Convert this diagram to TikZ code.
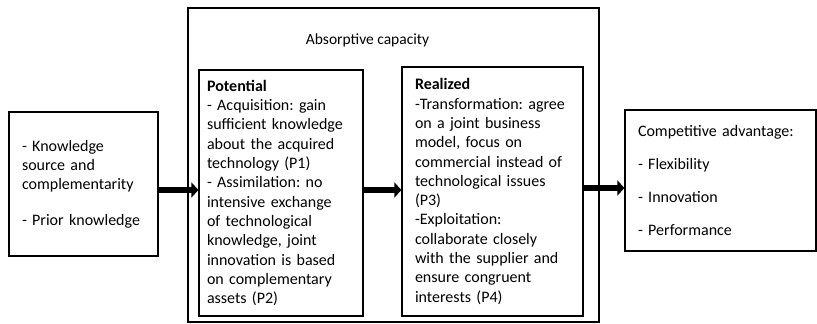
\documentclass[tikz,border=0pt]{standalone}
\usepackage{fontspec}
\setmainfont{Carlito}
\usetikzlibrary{arrows.meta}
\frenchspacing

\begin{document}
\begin{tikzpicture}[x=1pt, y=-1pt,
        box/.style={draw, line width=1.2pt, align=left, inner xsep=13pt,
                    font=\fontsize{16}{19.3}\selectfont},
        bigarrow/.style={line width=6.5pt,
                    -{Triangle[length=7pt, width=15pt]}}]
        \useasboundingbox (0,0) rectangle (817,324);
        %outer frame
        \node[draw, line width=1.2pt, minimum width=411, minimum height=314] (absorb) at (393.5,165) {};
        \node[font=\fontsize{15.5}{19}\selectfont] (title) at (367.5,40) {Absorptive capacity};
        %boxes
        \node[box, minimum width=149, minimum height=144, text width=123] (src) at (83.5,184)
              {- Knowledge\\ source and\\ complementarity\\[16pt] - Prior knowledge};
        \node[box, inner xsep=8pt, minimum width=164, minimum height=246, text width=148] (pot) at (281,193)
              {\textbf{Potential}\\
               - Acquisition: gain\\ sufficient knowledge\\ about the acquired\\ technology (P1)\\
               - Assimilation: no\\ intensive exchange\\ of technological\\ knowledge, joint\\
               innovation is based\\ on complementary\\ assets (P2)};
        \node[box, minimum width=181, minimum height=249, text width=155] (real) at (492.5,191.5)
              {\textbf{Realized}\\
               -Transformation: agree\\ on a joint business\\ model, focus on\\
               commercial instead of\\ technological issues\\ (P3)\\
               -Exploitation:\\ collaborate closely\\ with the supplier and\\
               ensure congruent\\ interests (P4)};
        \node[box, minimum width=191, minimum height=141, text width=165] (adv) at (720.5,180.5)
              {Competitive advantage:\\[14pt] - Flexibility\\[14pt] - Innovation\\[14pt] - Performance};
        %arrows
        \coordinate (row) at (0,190);
        \coordinate (outrow) at (0,188);
        \draw[bigarrow] (src.east |- row) -- (pot.west |- row);
        \draw[bigarrow] (pot.east |- row) -- (real.west |- row);
        \draw[bigarrow] (real.east |- outrow) -- (adv.west |- outrow);
\end{tikzpicture}
\end{document}
